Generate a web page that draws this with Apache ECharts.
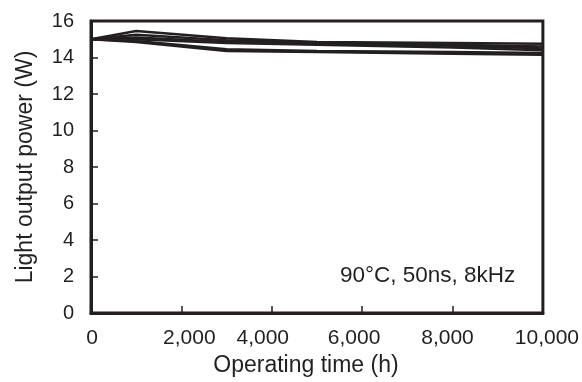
<!DOCTYPE html>
<html>
<head>
<meta charset="utf-8">
<script src="https://cdn.jsdelivr.net/npm/echarts@6/dist/echarts.min.js"></script>
<style>
  html, body { margin: 0; padding: 0; background: #fff; }
  #chart { width: 582px; height: 382px; }
</style>
</head>
<body>
<div id="chart"></div>
<script>
// Operating time (h) at which light output was measured
const hours = [0, 1000, 3000, 5000, 8000, 10000];

// Light output power (W) of each tested unit
const unitA = [15.0, 15.45, 15.05, 14.85, 14.8, 14.75];
const unitB = [15.0, 15.25, 14.95, 14.8, 14.7, 14.6];
const unitC = [15.0, 15.1, 14.85, 14.75, 14.65, 14.5];
const unitD = [15.0, 15.0, 14.8, 14.7, 14.55, 14.4];
const unitF = [15.0, 14.9, 14.45, 14.35, 14.3, 14.25];
const unitE = [15.0, 14.85, 14.35, 14.3, 14.2, 14.15];

const xTicks = [0, 2000, 4000, 6000, 8000, 10000];
const yTicks = [0, 2, 4, 6, 8, 10, 12, 14, 16];
const condition = '90°C, 50ns, 8kHz';

const ink = '#231f20';
// small horizontal nudges of the x tick labels (px, + = right)
const xLabelShift = [1, 8, -9, -8, -5, 4];

const rich = {};
xLabelShift.forEach((d, i) => {
  rich['k' + i] = {
    fontFamily: 'Liberation Sans, Arial, sans-serif',
    fontSize: 21,
    color: ink,
    padding: d >= 0 ? [0, 0, 0, 2 * d] : [0, -2 * d, 0, 0]
  };
});

const units = [unitA, unitB, unitC, unitD, unitE, unitF];
const series = units.map(u => ({
  type: 'line',
  data: hours.map((h, i) => [h, u[i]]),
  symbol: 'none',
  lineStyle: { color: ink, width: 2.5 },
  z: 3
}));

const chart = echarts.init(document.getElementById('chart'), null, { renderer: 'canvas' });
chart.setOption({
  animation: false,
  backgroundColor: '#fff',
  textStyle: { fontFamily: 'Liberation Sans, Arial, sans-serif', color: ink },
  grid: {
    left: 91, right: 39, top: 21, bottom: 69,
    show: true, borderColor: ink, borderWidth: 3, backgroundColor: 'transparent'
  },
  xAxis: {
    type: 'value',
    min: xTicks[0], max: xTicks[xTicks.length - 1], interval: xTicks[1] - xTicks[0],
    name: 'Operating time (h)',
    nameLocation: 'middle',
    nameGap: 41,
    nameTextStyle: { fontSize: 23, color: ink, padding: [0, 22, 0, 0] },
    axisLine: { show: true, lineStyle: { color: ink, width: 3 } },
    axisTick: { show: true, inside: true, length: 7, lineStyle: { color: ink, width: 1.5 } },
    axisLabel: {
      margin: 15,
      formatter: v => {
        const i = xTicks.indexOf(v);
        return '{k' + i + '|' + v.toLocaleString('en-US') + '}';
      },
      rich: rich
    },
    splitLine: { show: false }
  },
  yAxis: {
    type: 'value',
    min: yTicks[0], max: yTicks[yTicks.length - 1], interval: yTicks[1] - yTicks[0],
    name: 'Light output power (W)',
    nameLocation: 'middle',
    nameGap: 54,
    nameTextStyle: { fontSize: 23, color: ink },
    axisLine: { show: true, lineStyle: { color: ink, width: 3 } },
    axisTick: { show: true, inside: true, length: 7, lineStyle: { color: ink, width: 1.5 } },
    axisLabel: { margin: 17, fontSize: 20, color: ink },
    splitLine: { show: false }
  },
  graphic: [{
    type: 'text',
    left: 340,
    top: 264,
    style: {
      text: condition,
      fontSize: 22.5,
      fontFamily: 'Liberation Sans, Arial, sans-serif',
      fill: ink
    }
  }],
  series: series
});
</script>
</body>
</html>
